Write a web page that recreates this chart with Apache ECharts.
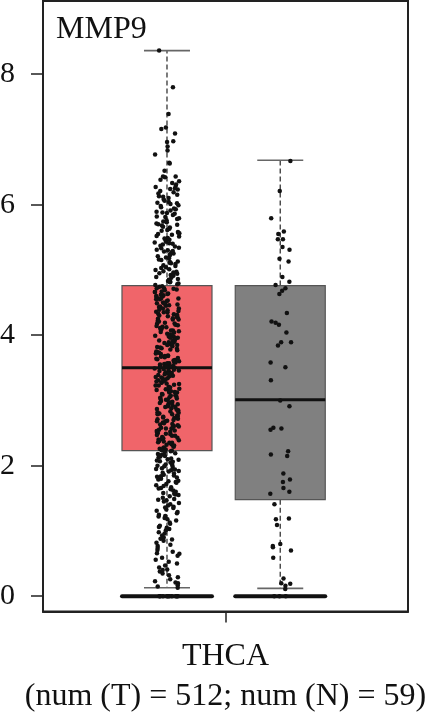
<!DOCTYPE html>
<html>
<head>
<meta charset="utf-8">
<script src="https://cdn.jsdelivr.net/npm/echarts@6/dist/echarts.min.js"></script>
<style>
html,body{margin:0;padding:0;background:#fff;}
#chart{width:435px;height:716px;}
</style>
</head>
<body>
<div id="chart"></div>
<script>
// ---------- data ----------
const geneName = 'MMP9';
const cancerType = 'THCA';
const groupNames = ['T', 'N'];
const groupCounts = [512, 59];
const yTicks = [0, 2, 4, 6, 8];

// box statistics: [tumor, normal]
const whiskerLow = [0.13, 0.12];
const boxQ1 = [2.23, 1.48];
const boxMedian = [3.50, 3.01];
const boxQ3 = [4.76, 4.76];
const whiskerHigh = [8.36, 6.68];
const zeroLevel = [0, 0];

const tumorValues = [
  8.36,7.80,7.39,7.18,7.16,7.09,6.97,6.96,6.89,6.83,6.77,6.64,6.63,6.52,6.43,6.43,6.42,
  6.38,6.36,6.33,6.31,6.29,6.27,6.24,6.23,6.21,6.19,6.17,6.15,6.13,6.12,6.10,6.08,6.06,6.04,6.03,6.01,
  5.99,5.98,5.96,5.94,5.93,5.91,5.89,5.87,5.86,5.84,5.82,5.81,5.79,5.78,5.76,5.74,5.73,5.71,5.69,5.68,
  5.66,5.65,5.63,5.61,5.60,5.58,5.57,5.55,5.54,5.52,5.51,5.49,5.48,5.46,5.45,5.43,5.42,5.40,5.39,5.37,
  5.36,5.34,5.33,5.31,5.30,5.28,5.27,5.25,5.24,5.22,5.21,5.19,5.18,5.16,5.15,5.13,5.12,5.10,5.09,5.07,
  5.06,5.04,5.03,5.01,5.00,4.98,4.97,4.95,4.94,4.92,4.91,4.89,4.88,4.86,4.85,4.83,4.82,4.81,4.79,4.78,
  4.77,6.25,6.02,5.88,5.70,5.56,5.41,5.29,5.11,4.96,4.84,
  4.75,4.74,4.72,4.72,4.70,4.69,4.67,4.66,4.66,4.64,4.63,4.61,4.60,4.60,4.58,4.56,4.55,4.55,4.53,4.52,
  4.50,4.49,4.49,4.47,4.45,4.44,4.43,4.41,4.41,4.39,4.38,4.36,4.35,4.35,4.33,4.32,4.30,4.29,4.28,4.27,
  4.25,4.24,4.24,4.22,4.21,4.19,4.18,4.18,4.16,4.15,4.13,4.12,4.11,4.10,4.08,4.07,4.07,4.05,4.04,4.02,
  4.01,4.00,3.99,3.97,3.96,3.96,3.94,3.93,3.91,3.90,3.89,3.88,3.86,3.85,3.85,3.83,3.82,3.80,3.79,3.78,
  3.77,3.75,3.74,3.74,3.72,3.71,3.69,3.68,3.68,3.66,3.65,3.63,3.62,3.61,3.60,3.59,3.58,3.57,3.56,3.55,
  3.54,3.53,3.53,3.52,3.51,3.51,3.50,3.50,
  4.71,4.62,4.57,4.46,4.37,4.31,4.26,4.14,4.06,3.98,3.92,3.87,3.81,3.73,3.67,3.64,3.57,3.55,3.52,4.48,
  3.49,3.48,3.46,3.45,3.45,3.43,3.42,3.40,3.39,3.38,3.37,3.35,3.34,3.34,3.32,3.31,3.29,3.28,3.27,3.26,
  3.24,3.23,3.23,3.21,3.20,3.18,3.17,3.16,3.15,3.13,3.12,3.12,3.10,3.09,3.07,3.06,3.05,3.04,3.02,3.01,
  3.01,2.99,2.98,2.96,2.95,2.94,2.93,2.91,2.90,2.90,2.88,2.87,2.85,2.84,2.83,2.82,2.80,2.79,2.79,2.77,
  2.76,2.74,2.73,2.72,2.71,2.69,2.68,2.68,2.66,2.65,2.63,2.62,2.61,2.60,2.58,2.57,2.57,2.55,2.54,2.52,
  2.51,2.50,2.49,2.47,2.46,2.46,2.44,2.43,2.41,2.40,2.39,2.38,2.36,2.35,2.35,2.33,2.32,2.30,2.29,2.28,
  2.27,2.26,2.25,2.24,2.24,2.23,
  3.47,3.41,3.36,3.30,3.25,3.19,3.14,3.08,3.03,2.97,2.92,2.86,2.81,2.75,2.70,2.64,2.59,2.53,2.48,2.42,2.37,2.31,
  2.22,2.21,2.19,2.18,2.17,2.15,2.14,2.13,2.11,2.10,2.09,2.07,2.06,2.05,2.03,2.02,2.01,1.99,1.98,1.96,
  1.95,1.94,1.92,1.91,1.89,1.88,1.86,1.85,1.83,1.82,1.80,1.79,1.77,1.75,1.74,1.72,1.70,1.69,1.67,1.65,
  1.64,1.62,1.60,1.58,1.56,1.55,1.53,1.51,1.49,1.47,1.45,1.43,1.41,1.39,1.37,1.35,1.33,1.31,1.29,1.27,
  1.25,1.23,1.20,1.18,1.16,1.13,1.11,1.08,1.06,1.03,1.01,0.98,0.96,0.93,0.90,0.88,0.85,0.82,0.79,0.77,
  0.74,0.71,0.68,0.65,0.62,0.59,0.56,0.53,0.50,0.47,0.44,0.41,0.38,0.35,0.32,0.29,0.26,0.23,0.20,0.17,
  0.15,0.13,
  2.16,2.08,2.00,1.93,1.84,1.76,1.66,1.57,1.48,1.36,1.22,1.05,0.87,0.66,0.40,0.21,
  0,0,0,0,0,0,0,0,0,0
];

const normalValues = [
  6.67,6.21,5.79,5.59,5.55,5.47,5.47,5.35,5.31,5.17,5.13,4.89,4.82,4.77,4.72,4.68,4.63,4.34,4.21,4.19,
  4.16,4.04,3.89,3.89,3.84,3.58,3.51,3.31,3.00,2.91,2.58,2.57,2.55,2.22,2.17,2.15,1.88,1.79,1.75,1.66,
  1.60,1.57,1.41,1.19,1.18,1.09,0.80,0.77,0.75,0.70,0.59,0.27,0.20,0.19,0.16,0.11,
  0,0,0
];

// ---------- layout ----------
const groupCenters = [0.3397, 0.650];   // position on hidden 0..1 x scale
const jitterSpread = [0.034, 0.030];    // half spread in x units
const boxHalfPx = 45;
const capHalfPx = 23;
const boxFill = ['#F0656A', '#808080'];

function jitter(i) {
  // deterministic hash-based horizontal offset in [-1, 1] (layout only)
  const s = Math.sin(i * 12.9898 + 78.233) * 43758.5453;
  return (s - Math.floor(s) - 0.5) * 2;
}

const boxData = groupNames.map((g, k) => [
  groupCenters[k], whiskerLow[k], boxQ1[k], boxMedian[k], boxQ3[k], whiskerHigh[k], zeroLevel[k], k
]);

const tumorPts = tumorValues.map((v, i) => [groupCenters[0] + jitter(i) * jitterSpread[0], v]);
const normalPts = normalValues.map((v, i) => [groupCenters[1] + jitter(i + 701) * jitterSpread[1], v]);

const chart = echarts.init(document.getElementById('chart'), null, { renderer: 'canvas' });
const serif = '"Liberation Serif", "DejaVu Serif", serif';

chart.setOption({
  animation: false,
  backgroundColor: '#fff',
  title: {
    text: geneName,
    left: 56,
    top: 14,
    padding: 0,
    textStyle: { fontFamily: serif, fontSize: 32, fontWeight: 'normal', color: '#111' }
  },
  grid: {
    left: 43, right: 27, top: 1, bottom: 104.5,
    containLabel: false,
    outerBoundsMode: 'none',
    show: true, borderColor: '#222', borderWidth: 2, backgroundColor: 'transparent'
  },
  xAxis: {
    type: 'value', min: 0, max: 1,
    axisLine: { show: true, onZero: false, lineStyle: { color: '#222', width: 2 } },
    axisTick: { show: true, inside: false, length: 11, customValues: [0.5], lineStyle: { color: '#222', width: 1.5 } },
    axisLabel: {
      show: true, inside: false, customValues: [0.5], margin: 25,
      formatter: () => cancerType + '\n(num (' + groupNames[0] + ') = ' + groupCounts[0] + '; num (' + groupNames[1] + ') = ' + groupCounts[1] + ')',
      fontFamily: serif, fontSize: 32, lineHeight: 40, color: '#111', align: 'center'
    },
    splitLine: { show: false }
  },
  yAxis: {
    type: 'value', min: -0.234, max: 9.12,
    axisLine: { show: true, onZero: false, lineStyle: { color: '#222', width: 2 } },
    axisTick: { show: true, inside: false, length: 12, customValues: yTicks, lineStyle: { color: '#222', width: 1.5 } },
    axisLabel: { show: true, inside: false, customValues: yTicks, margin: 28, fontFamily: serif, fontSize: 30, color: '#111' },
    splitLine: { show: false }
  },
  series: [
    {
      type: 'custom',
      z: 1,
      data: boxData,
      clip: false,
      renderItem: function (params, api) {
        const cx = api.coord([api.value(0), 0])[0];
        const y = (v) => api.coord([0, v])[1];
        const yLow = y(api.value(1)), yQ1 = y(api.value(2)), yMed = y(api.value(3));
        const yQ3 = y(api.value(4)), yHigh = y(api.value(5)), yZero = y(api.value(6));
        const k = api.value(7);
        return {
          type: 'group',
          children: [
            { type: 'line', shape: { x1: cx, y1: yQ3, x2: cx, y2: yHigh }, style: { stroke: '#444', lineWidth: 1.4, lineDash: [5, 3] } },
            { type: 'line', shape: { x1: cx, y1: yQ1, x2: cx, y2: yLow }, style: { stroke: '#444', lineWidth: 1.4, lineDash: [5, 3] } },
            { type: 'line', shape: { x1: cx - capHalfPx, y1: yHigh, x2: cx + capHalfPx, y2: yHigh }, style: { stroke: '#666', lineWidth: 1.6 } },
            { type: 'line', shape: { x1: cx - capHalfPx, y1: yLow, x2: cx + capHalfPx, y2: yLow }, style: { stroke: '#666', lineWidth: 1.6 } },
            { type: 'rect', shape: { x: cx - boxHalfPx, y: yQ3, width: boxHalfPx * 2, height: yQ1 - yQ3 }, style: { fill: boxFill[k], stroke: '#555', lineWidth: 1.2 } },
            { type: 'line', shape: { x1: cx - boxHalfPx, y1: yMed, x2: cx + boxHalfPx, y2: yMed }, style: { stroke: '#111', lineWidth: 3 } },
            { type: 'line', z2: 10, shape: { x1: cx - boxHalfPx, y1: yZero, x2: cx + boxHalfPx, y2: yZero }, style: { stroke: '#111', lineWidth: 4, lineCap: 'round' } }
          ]
        };
      }
    },
    {
      type: 'scatter', z: 2, data: tumorPts, symbol: 'circle', symbolSize: 4.5,
      itemStyle: { color: '#111', opacity: 1 }
    },
    {
      type: 'scatter', z: 2, data: normalPts, symbol: 'circle', symbolSize: 4.5,
      itemStyle: { color: '#111', opacity: 1 }
    }
  ]
});
</script>
</body>
</html>
